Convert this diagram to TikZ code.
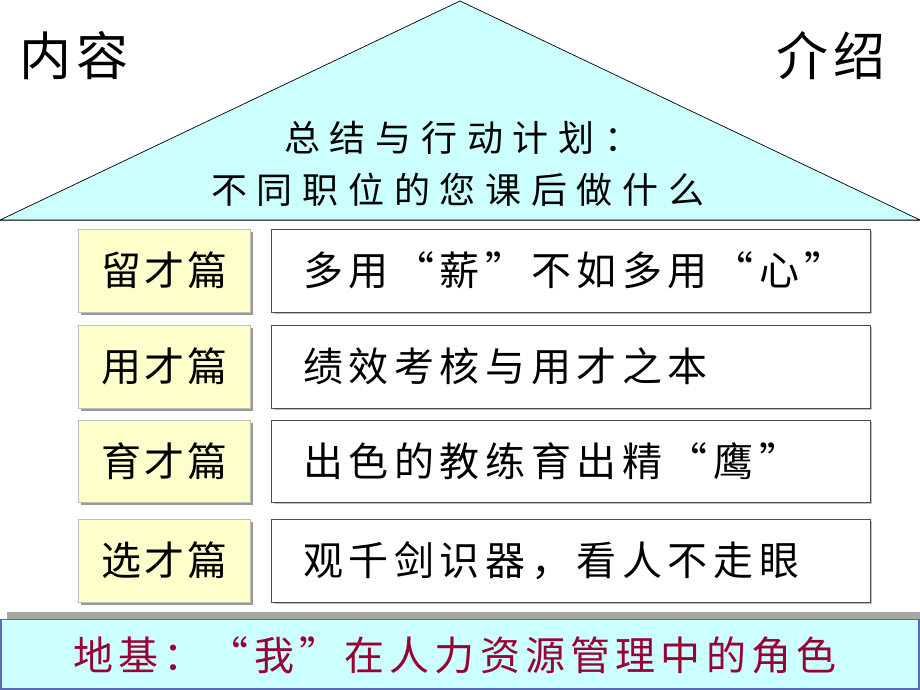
\documentclass[tikz,border=0pt]{standalone}
\usepackage{fontspec}
\newfontfamily\cjkhead[LetterSpace=11]{Noto Sans CJK SC}
\newfontfamily\cjktitle[LetterSpace=27]{Noto Sans CJK SC}
\newfontfamily\cjkbox[LetterSpace=8]{Noto Sans CJK SC}
\newfontfamily\cjkrow[LetterSpace=14]{Noto Sans CJK SC}
\newfontfamily\cjkbase[LetterSpace=13]{Noto Sans CJK SC}
\definecolor{roofcyan}{HTML}{CCFFFF}
\definecolor{padyellow}{HTML}{FFFFCC}
\definecolor{basered}{HTML}{990033}
\definecolor{baseblue}{HTML}{5A6BB5}
\tikzset{
  lefttag/.style={draw=black!25, fill=padyellow, line width=0.8pt},
  leftshadow/.style={fill=black!40, draw=none},
  rowbox/.style={draw=black!70, fill=white, line width=0.8pt},
  rowshadow/.style={fill=black!25, draw=none},
  tagtext/.style={inner sep=0pt, anchor=west, font=\cjkbox\fontsize{40}{44}\selectfont},
  rowtext/.style={inner sep=0pt, anchor=west, font=\cjkrow\fontsize{40}{44}\selectfont},
}
\begin{document}
\begin{tikzpicture}[x=1pt,y=-1pt]
\useasboundingbox (0,0) rectangle (920,690);
% roof
\draw[fill=roofcyan, draw=black, line width=0.7pt] (0,220) -- (460,1) -- (920,220) -- cycle;
\draw[black!70, line width=1pt] (0,220) -- (920,220);
\node[inner sep=0pt, anchor=west, font=\cjkhead\fontsize{52}{56}\selectfont] (neirong) at (19,56) {内容};
\node[inner sep=0pt, anchor=west, font=\cjkhead\fontsize{52}{56}\selectfont] (jieshao) at (776,56) {介绍};
\node[inner sep=0pt, anchor=west, font=\cjktitle\fontsize{36}{40}\selectfont] (title1) at (284,138) {总结与行动计划：};
\node[inner sep=0pt, anchor=west, font=\cjktitle\fontsize{36}{40}\selectfont] (title2) at (211,190) {不同职位的您课后做什么};
% rows
\foreach \t/\b/\nm/\lab/\txt in {229/312/a/留才篇/多用“薪”不如多用“心”, 325/408/b/用才篇/绩效考核与用才之本, 420/502/c/育才篇/出色的教练育出精“鹰”, 519/602/d/选才篇/观千剑识器，看人不走眼}{
  \fill[leftshadow] (81,\t+3) rectangle (253,\b+3);
  \draw[lefttag] (78,\t) rectangle (250,\b);
  \node[tagtext] (tag\nm) at (101,{(\t+\b)/2}) {\lab};
  \fill[rowshadow] (274,\t+2) rectangle (872,\b+2);
  \draw[rowbox] (271,\t) rectangle (870,\b);
  \node[rowtext] (row\nm) at (303,{(\t+\b)/2}) {\txt};
}
% foundation
\fill[black!35] (7,612) rectangle (920,619);
\draw[fill=roofcyan, draw=baseblue, line width=1.5pt] (1,619.5) rectangle (919,689);
\node[inner sep=0pt, anchor=west, text=basered, font=\cjkbase\fontsize{40}{44}\selectfont] (base) at (73,655) {地基：“我”在人力资源管理中的角色};
\end{tikzpicture}
\end{document}
